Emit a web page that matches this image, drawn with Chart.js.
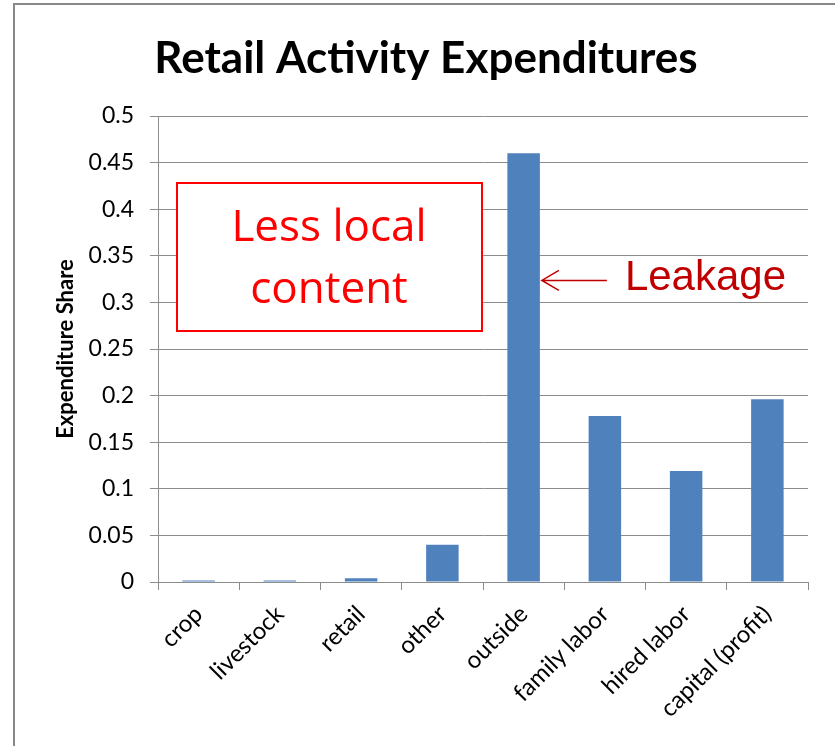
<!DOCTYPE html>
<html>
<head>
<meta charset="utf-8">
<script src="https://cdn.jsdelivr.net/npm/chart.js@4/dist/chart.umd.min.js"></script>
<style>
  html, body { margin: 0; padding: 0; background: #fff; }
  #wrap { width: 835px; height: 746px; position: relative; }
</style>
</head>
<body>
<div id="wrap"><canvas id="retailChart" width="835" height="746"></canvas></div>
<script>
// data
var categories = ['crop', 'livestock', 'retail', 'other', 'outside', 'family labor', 'hired labor', 'capital (profit)'];
var shares = [0.0015, 0.0015, 0.004, 0.04, 0.46, 0.178, 0.119, 0.196];
var yTicks = ['0', '0.05', '0.1', '0.15', '0.2', '0.25', '0.3', '0.35', '0.4', '0.45', '0.5'];

var chartFont = "Lato, 'Open Sans', sans-serif";

// frame + call-outs drawn on top of the chart
var extras = {
	id: 'extras',
	beforeDraw: function(chart) {
		var ctx = chart.ctx;
		ctx.save();
		ctx.strokeStyle = '#888888';
		ctx.lineWidth = 2;
		ctx.beginPath();
		ctx.moveTo(14, 746);
		ctx.lineTo(14, 4);
		ctx.lineTo(835, 4);
		ctx.stroke();
		ctx.restore();
	},
	afterDraw: function(chart) {
		var ctx = chart.ctx;
		ctx.save();

		// "Less local content" box
		ctx.fillStyle = '#ffffff';
		ctx.fillRect(177, 183, 305, 148);
		ctx.strokeStyle = '#ff0000';
		ctx.lineWidth = 2;
		ctx.strokeRect(177, 183, 305, 148);
		ctx.fillStyle = '#ff0000';
		ctx.font = "44px 'Open Sans', sans-serif";
		ctx.textAlign = 'center';
		ctx.textBaseline = 'middle';
		ctx.fillText('Less local', 329, 228);
		ctx.fillText('content', 329, 290);

		// leakage arrow next to the "outside" bar
		var bar = chart.getDatasetMeta(0).data[4];
		var ax = bar.x + bar.width / 2 + 2;
		var ay = chart.scales.y.getPixelForValue(0.3) - 22;
		ctx.strokeStyle = '#c00000';
		ctx.lineWidth = 1.5;
		ctx.beginPath();
		ctx.moveTo(ax + 65, ay);
		ctx.lineTo(ax, ay);
		ctx.moveTo(ax + 17, ay - 10);
		ctx.lineTo(ax, ay);
		ctx.lineTo(ax + 17, ay + 10);
		ctx.stroke();
		ctx.fillStyle = '#c00000';
		ctx.font = "42px 'Liberation Sans', Arial, sans-serif";
		ctx.textAlign = 'left';
		ctx.fillText('Leakage', ax + 83, ay - 2);
		ctx.restore();
	}
};

const ctx = document.getElementById('retailChart').getContext('2d');
const myChart = new Chart(ctx, {
	type: 'bar',
	data: {
		labels: categories,
		datasets: [{
			data: shares,
			backgroundColor: '#4f81bd',
			borderWidth: 0,
			barPercentage: 0.4,
			categoryPercentage: 1.0
		}]
	},
	options: {
		responsive: false,
		animation: false,
		layout: { padding: { left: 44, right: 27, top: 0, bottom: 0 } },
		plugins: {
			legend: { display: false },
			tooltip: { enabled: false },
			title: {
				display: true,
				text: 'Retail Activity Expenditures',
				color: '#000',
				font: { family: chartFont, size: 44, weight: 'bold' },
				padding: { top: 32, bottom: 31.2 }
			}
		},
		scales: {
			x: {
				afterFit: function(scale) { scale.height = 164; },
				grid: { display: true, drawOnChartArea: false, offset: true, color: '#8c8c8c', tickLength: 8 },
				border: { color: '#8c8c8c', width: 1 },
				ticks: {
					color: '#000',
					font: { family: chartFont, size: 24 },
					maxRotation: 45,
					minRotation: 45,
					padding: 10
				}
			},
			y: {
				min: 0,
				max: 0.5,
				afterFit: function(scale) { scale.width = 114; },
				grid: { color: '#8c8c8c', tickLength: 8 },
				border: { color: '#8c8c8c', width: 1 },
				ticks: {
					stepSize: 0.05,
					color: '#000',
					font: { family: chartFont, size: 23 },
					padding: 16,
					callback: function(value, index) { return yTicks[index]; }
				},
				title: {
					display: true,
					text: 'Expenditure Share',
					color: '#000',
					font: { family: chartFont, size: 22, weight: 'bold' },
					padding: { top: 9, bottom: 0 }
				}
			}
		}
	},
	plugins: [extras]
});
</script>
</body>
</html>
